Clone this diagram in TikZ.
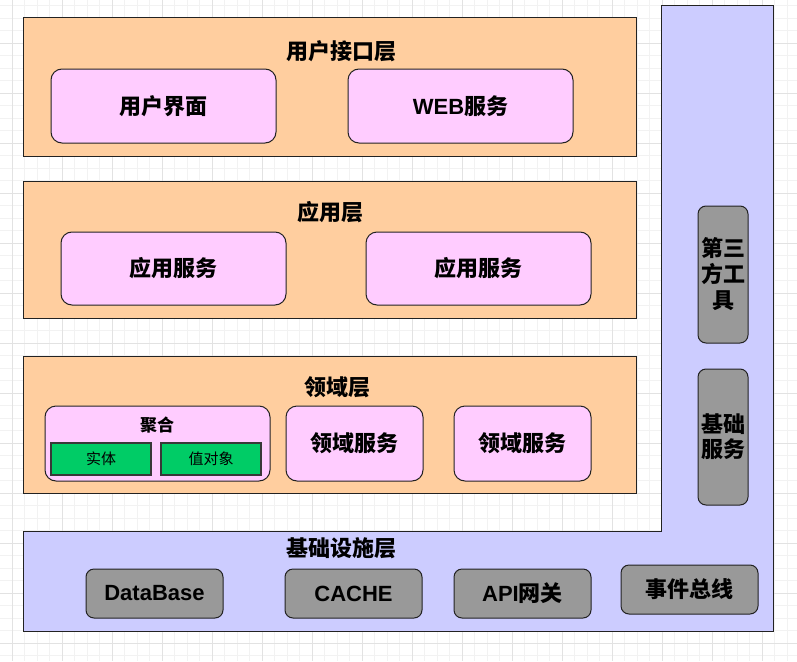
\documentclass[tikz,border=0pt]{standalone}
\usepackage{fontspec}
\setmainfont{Noto Sans CJK SC}
\newfontfamily\lat{Liberation Sans}
\definecolor{peach}{HTML}{FFCE9F}
\definecolor{pinkbox}{HTML}{FFCCFF}
\definecolor{lavender}{HTML}{CCCCFF}
\definecolor{graybox}{HTML}{999999}
\definecolor{greenbox}{HTML}{00CC66}
\definecolor{gridminor}{HTML}{F2F2F2}
\definecolor{gridmajor}{HTML}{E2E2E2}
\definecolor{edge}{HTML}{222222}
\begin{document}
\begin{tikzpicture}[x=1pt,y=-1pt,
  every node/.style={inner sep=0pt,outer sep=0pt},
  big/.style={font=\fontsize{22}{26}\selectfont\bfseries},
  small/.style={font=\fontsize{15}{18}\selectfont},
  layer/.style={draw=edge,line width=1pt,fill=peach},
  pinkb/.style={draw=edge,line width=1pt,fill=pinkbox,rounded corners=11pt,big},
  grayb/.style={draw=edge,line width=1pt,fill=graybox,rounded corners=8pt,big},
  greenb/.style={draw=edge!90,line width=1.3pt,fill=greenbox,small},
  infra/.style={draw=edge,line width=1pt,fill=lavender},
  title/.style={big}]
\useasboundingbox (0,0) rectangle (797,661);
\fill[white] (0,0) rectangle (797,661);
% grid
\foreach \x in {-0.5,12,...,797} \draw[gridminor,line width=0.8pt] (\x,0) -- (\x,661);
\foreach \y in {5.5,18,...,661} \draw[gridminor,line width=0.8pt] (0,\y) -- (797,\y);
\foreach \x in {12,62,...,797} \draw[gridmajor,line width=0.8pt] (\x,0) -- (\x,661);
\foreach \y in {43,93,...,661} \draw[gridmajor,line width=0.8pt] (0,\y) -- (797,\y);
% infrastructure L-shape
\draw[infra] (661,6) -- (773,6) -- (773,631) -- (23,631) -- (23,531) -- (661,531) -- cycle;
% layers
\node[layer,minimum width=613pt,minimum height=138pt] (L1) at (329.5,87) {};
\node[layer,minimum width=613pt,minimum height=137pt] (L2) at (329.5,249.5) {};
\node[layer,minimum width=613pt,minimum height=137pt] (L3) at (329.5,424.5) {};
\node[title] (T1) at (341.5,51) {用户接口层};
\node[title] (T2) at (330,212) {应用层};
\node[title] (T3) at (337,387) {领域层};
\node[title] (T4) at (341.5,548) {基础设施层};
% user interface layer
\node[pinkb,minimum width=225pt,minimum height=74pt] (ui) at (163.5,106) {用户界面};
\node[pinkb,minimum width=225pt,minimum height=74pt] (web) at (460.5,106) {{\lat\bfseries WEB}服务};
% application layer
\node[pinkb,minimum width=225pt,minimum height=73pt] (app1) at (173.5,268.5) {应用服务};
\node[pinkb,minimum width=225pt,minimum height=73pt] (app2) at (478.5,268.5) {应用服务};
% domain layer
\node[pinkb,minimum width=225pt,minimum height=75pt] (agg) at (157.5,443.5) {};
\node[font=\fontsize{17}{20}\selectfont\bfseries] (aggt) at (157,425) {聚合};
\node[greenb,minimum width=100pt,minimum height=32pt] (ent) at (101,459) {实体};
\node[greenb,minimum width=100pt,minimum height=32pt] (vo) at (211,459) {值对象};
\node[pinkb,minimum width=137pt,minimum height=75pt] (dom1) at (354.5,443.5) {领域服务};
\node[pinkb,minimum width=137pt,minimum height=75pt] (dom2) at (522.5,443.5) {领域服务};
% infrastructure
\node[grayb,minimum width=137pt,minimum height=49pt] (db) at (154.5,593.5) {\lat\bfseries DataBase};
\node[grayb,minimum width=137pt,minimum height=49pt] (cache) at (353.5,593.5) {\lat\bfseries CACHE};
\node[grayb,minimum width=137pt,minimum height=49pt] (api) at (522.5,593.5) {{\lat\bfseries API}网关};
\node[grayb,minimum width=137pt,minimum height=49pt] (bus) at (689.5,589.5) {事件总线};
\node[grayb,minimum width=50pt,minimum height=137pt,align=center] (third) at (723,274.5) {第三\\方工\\具};
\node[grayb,minimum width=50pt,minimum height=136pt,align=center,font=\fontsize{22}{25}\selectfont\bfseries] (basic) at (723,437) {基础\\服务};
\end{tikzpicture}
\end{document}
